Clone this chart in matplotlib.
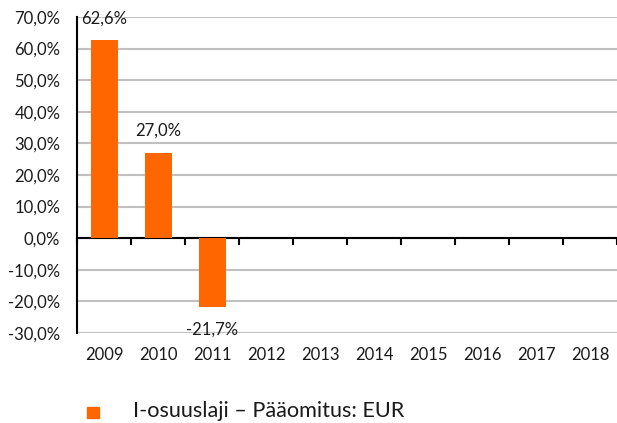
import numpy as np
import matplotlib.pyplot as plt
import matplotlib.transforms as mtransforms

# === DATA ===
years = ["2009", "2010", "2011", "2012", "2013", "2014", "2015", "2016", "2017", "2018"]
returns = [62.6, 27.0, -21.7, None, None, None, None, None, None, None]
y_ticks = [-30, -20, -10, 0, 10, 20, 30, 40, 50, 60, 70]
series_name = "I-osuuslaji – Pääomitus: EUR"

ORANGE = "#FF6600"
TXT = "#1a1a1a"
plt.rcParams['font.family'] = ['Lato', 'DejaVu Sans']


def pct(v):
    return f"{v:.1f}%".replace(".", ",")


fig = plt.figure(figsize=(6.17, 4.23), dpi=100)
ax = fig.add_axes([0.1248, 0.2128, 0.8752, 0.7470])

x = np.arange(len(years))
shown = [i for i, v in enumerate(returns) if v is not None]
ax.bar(x[shown], [returns[i] for i in shown], width=0.5, color=ORANGE, zorder=3)

# data labels
for i in shown:
    v = returns[i]
    if v >= 0:
        ax.annotate(pct(v), (x[i], v), xytext=(0, 10), textcoords="offset points",
                    ha="center", va="bottom", fontsize=12, color=TXT)
    else:
        ax.annotate(pct(v), (x[i], v), xytext=(0, -11), textcoords="offset points",
                    ha="center", va="top", fontsize=12, color=TXT)

ax.set_xlim(-0.5, len(years) - 0.5)
ax.set_ylim(-30, 70)
ax.set_yticks(y_ticks)
ax.set_yticklabels([pct(t) for t in y_ticks], fontsize=12, color=TXT)
ax.tick_params(axis="y", length=0, pad=12)
ax.yaxis.grid(True, color="#C0C0C0", linewidth=1.5, zorder=0)

# x axis on the zero line, ticks at category boundaries
ax.spines["bottom"].set_position(("data", 0))
ax.spines["bottom"].set_linewidth(1.5)
ax.spines["left"].set_linewidth(1.5)
ax.spines["top"].set_visible(False)
ax.spines["right"].set_visible(False)
ax.set_xticks(np.arange(len(years) + 1) - 0.5)
ax.set_xticklabels([])
ax.tick_params(axis="x", direction="out", length=5, width=1.5)

# year labels below the plot
trans = mtransforms.blended_transform_factory(ax.transData, ax.transAxes)
for xi, yr in zip(x, years):
    ax.text(xi, -0.07, yr, transform=trans, ha="center", va="center",
            fontsize=12, color=TXT)

# legend
fig.patches.append(plt.Rectangle((87 / 617, 1 - 418 / 423), 12 / 617, 11 / 423,
                                 transform=fig.transFigure, color=ORANGE))
fig.text(133 / 617, 1 - 411 / 423, series_name, ha="left", va="center",
         fontsize=15.6, color=TXT)

fig.savefig("out.png", dpi=100)
